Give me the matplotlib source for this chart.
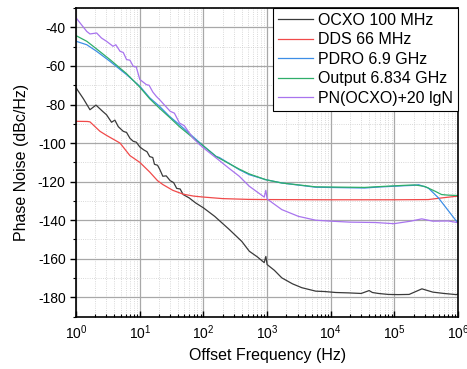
import matplotlib
matplotlib.use('Agg')
import matplotlib.pyplot as plt
from matplotlib.ticker import LogLocator, MultipleLocator, NullFormatter

plt.rcParams['font.family'] = ['Liberation Sans', 'DejaVu Sans']
plt.rcParams['mathtext.fontset'] = 'custom'
plt.rcParams['mathtext.rm'] = 'Liberation Sans'
plt.rcParams['mathtext.it'] = 'Liberation Sans:italic'
plt.rcParams['axes.unicode_minus'] = False

# offset frequencies (Hz) and phase noise (dBc/Hz)
ocxo_f = [1, 1.3, 1.65, 2.05, 2.6, 3.0, 3.6, 4.06, 4.6, 5.5, 6.2, 7, 7.9, 8.8, 10, 11.5,
          13, 14.3, 16, 17, 19, 20.5, 23, 26, 30, 34, 38, 43, 48, 60, 75, 100, 150, 256,
          400, 525, 700, 900, 955, 1000, 1300, 1700, 2500, 3500, 5800, 8000, 12000,
          19000, 30000, 40000, 45000, 56000, 80000, 115000, 170000, 270000, 400000,
          600000, 940000, 1e6]
ocxo_pn = [-71.4, -77, -82.7, -80.3, -83.5, -85.3, -89.2, -88.1, -91.5, -93.9, -94.5, -97.5,
           -99.1, -99.5, -102, -103.5, -104.5, -107, -107.5, -111, -111.5, -113.5, -117.2,
           -117, -119.5, -120.5, -123.5, -123.8, -126.7, -128.5, -131, -133.6, -138,
           -144.9, -151, -156.1, -159, -162, -158.8, -163, -166, -169.9, -173, -175,
           -176.8, -177, -177.5, -177.7, -178, -176.5, -177.5, -178, -178.5, -178.6,
           -178.5, -175.6, -177.3, -178, -178.6, -178.2]

dds_f = [1, 1.5, 1.65, 2.37, 3, 4.9, 7, 10, 14.3, 19, 23, 33, 48, 70, 100, 200, 500,
         1000, 10000, 100000, 340000, 600000, 1e6]
dds_pn = [-88.7, -88.8, -89, -93.9, -96, -100, -106.5, -110, -115, -119.5, -121.5, -124.5,
          -126.5, -127.5, -128, -128.8, -129.2, -129.3, -129.4, -129.4, -129.3, -128.3, -127.5]

pdro_f = [1, 1.47, 2.1, 3.4, 6.2, 10, 14.3, 20.5, 29, 42, 76, 100, 158, 178, 365, 525,
          955, 1700, 5800, 34000, 56000, 146000, 209000, 240000, 340000, 490000, 940000, 1e6]
pdro_pn = [-47.2, -49, -52.4, -57.6, -64.5, -70.5, -76.5, -81, -86, -90.5, -98, -101.5,
           -106.9, -107.5, -113.8, -116.4, -119, -120.7, -122.9, -123.3, -122.8, -122.1,
           -121.9, -121.6, -123.3, -128.4, -140.5, -141]

out_f = [1, 1.47, 2.1, 3.4, 6.2, 10, 14.3, 20.5, 29, 42, 76, 100, 158, 365, 525, 955,
         1700, 5800, 34000, 56000, 146000, 209000, 300000, 436000, 550000, 700000, 1e6]
out_pn = [-44.3, -47.2, -51.2, -56.7, -64, -71, -77, -82, -86.5, -91.5, -98.5, -101.5,
          -107, -113.5, -116, -119, -120.7, -122.7, -123, -122.6, -121.9, -121.7, -122.5,
          -125, -126.7, -127, -127.2]

pn_f = [1, 1.47, 1.65, 2.1, 2.5, 3.0, 3.8, 4.2, 4.9, 5.5, 6.2, 7, 7.9, 8.8, 10, 12.7, 14,
        16, 18.2, 20.5, 24, 30, 35, 42, 50, 68, 87, 100, 158, 250, 365, 525, 900, 955,
        1000, 1700, 3100, 5800, 10000, 19800, 50000, 98000, 180000, 268000, 400000,
        700000, 1e6]
pn_pn = [-35.1, -42.1, -43.4, -42.9, -45.5, -47.2, -49.8, -49, -52.4, -53, -56.7, -57,
         -60.2, -60.5, -67, -69.7, -70, -73.5, -75.8, -77.5, -80, -83.5, -84.5, -89.6,
         -91, -97.3, -100.8, -102.5, -107.7, -113, -117.2, -122.4, -128, -124.5, -129,
         -134.5, -138, -140, -140.5, -141, -141.2, -141.8, -140.5, -139.3, -140.5,
         -140.4, -141.3]

series = [
    ('OCXO 100 MHz', ocxo_f, ocxo_pn, '#3a3a3a'),
    ('DDS 66 MHz', dds_f, dds_pn, '#f04a4a'),
    ('PDRO 6.9 GHz', pdro_f, pdro_pn, '#3d8ee6'),
    ('Output 6.834 GHz', out_f, out_pn, '#2fae6a'),
    ('PN(OCXO)+20 lgN', pn_f, pn_pn, '#a874ee'),
]

fig = plt.figure(figsize=(4.67, 3.69), dpi=100)
ax = fig.add_axes([0.163, 0.142, 0.818, 0.836])

for label, f, pn, color in series:
    ax.plot(f, pn, color=color, lw=0.9, label=label)

ax.set_xscale('log')
ax.set_xlim(1, 1e6)
ax.set_ylim(-190, -30)
ax.xaxis.set_major_locator(LogLocator(base=10, numticks=10))
ax.xaxis.set_minor_locator(LogLocator(base=10, subs=range(2, 10), numticks=20))
ax.xaxis.set_minor_formatter(NullFormatter())
ax.yaxis.set_major_locator(MultipleLocator(20))
ax.yaxis.set_minor_locator(MultipleLocator(10))
ax.set_yticks(range(-180, -39, 20))

ax.grid(True, which='major', color='#a8a8a8', lw=0.9)
ax.grid(True, which='minor', color='#cccccc', lw=0.6, ls=':')
ax.set_axisbelow(True)

ax.tick_params(axis='x', which='both', direction='in', labelsize=10, pad=5)
ax.tick_params(axis='x', which='major', length=4, width=1)
ax.tick_params(axis='x', which='minor', length=2.5, width=0.8)
ax.tick_params(axis='y', which='both', direction='out', labelsize=10)
ax.tick_params(axis='y', which='major', length=4, width=1)
ax.tick_params(axis='y', which='minor', length=2.5, width=0.8)
for s in ax.spines.values():
    s.set_linewidth(1.2)
    s.set_color('black')

ax.set_xlabel('Offset Frequency (Hz)', fontsize=11.5, labelpad=4)
ax.set_ylabel('Phase Noise (dBc/Hz)', fontsize=11.5, labelpad=6)

leg = ax.legend(loc='upper right', fontsize=11.5, borderaxespad=0, borderpad=0.3,
                handlelength=2.2, handletextpad=0.35, labelspacing=0.28,
                fancybox=False, framealpha=1, edgecolor='black')
leg.get_frame().set_linewidth(0.8)

fig.savefig('out.png', dpi=100)
